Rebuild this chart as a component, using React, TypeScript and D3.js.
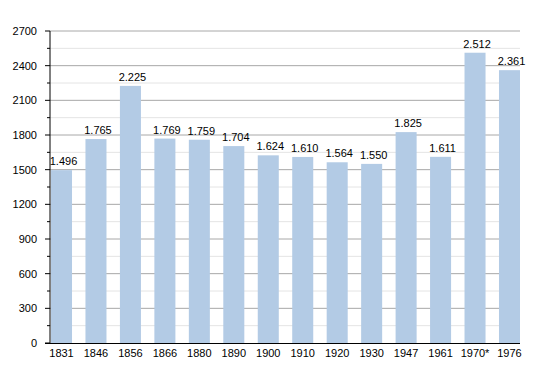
import * as d3 from 'd3';

const years = ['1831', '1846', '1856', '1866', '1880', '1890', '1900', '1910', '1920', '1930', '1947', '1961', '1970*', '1976'];
const population = [1496, 1765, 2225, 1769, 1759, 1704, 1624, 1610, 1564, 1550, 1825, 1611, 2512, 2361];
const majorTicks = [0, 300, 600, 900, 1200, 1500, 1800, 2100, 2400, 2700];
const minorTicks = [150, 450, 750, 1050, 1350, 1650, 1950, 2250, 2550];

const W = 550;
const H = 373;
const left = 50;
const right = 520;
const top = 31;
const bottom = 343;

const fmt = (v: number) => d3.format(',')(v).replace(/,/g, '.');

export default function App() {
  const x = d3.scaleBand<string>().domain(years).range([left + 1, right]).paddingInner(0.39).paddingOuter(0);
  const y = d3.scaleLinear().domain([0, 2700]).range([bottom, top]);
  const font = 'Liberation Sans, Arial, sans-serif';

  return (
    <svg width={W} height={H} style={{ position: 'absolute', left: 0, top: 0 }} fontFamily={font}>
      <rect width={W} height={H} fill="#fff" />
      {/* minor grid */}
      {minorTicks.map(t => (
        <g key={'m' + t}>
          <line x1={left} x2={right} y1={y(t)} y2={y(t)} stroke="#e4e4e4" />
          <line x1={left - 3} x2={left} y1={y(t)} y2={y(t)} stroke="#000" />
        </g>
      ))}
      {/* major grid */}
      {majorTicks.map(t => (
        <g key={'M' + t}>
          {t > 0 && <line x1={left} x2={right} y1={y(t)} y2={y(t)} stroke="#a8a8a8" />}
          <line x1={left - 5} x2={left} y1={y(t)} y2={y(t)} stroke="#000" />
          <text x={37} y={y(t)} dy="0.35em" textAnchor="end" fontSize={11} fill="#000">{t}</text>
        </g>
      ))}
      {years.map((yr, i) => (
        <g key={yr}>
          <rect x={x(yr)} y={y(population[i])} width={x.bandwidth()} height={bottom - y(population[i])} fill="#b3cbe5" />
          <text x={(x(yr) ?? 0) + x.bandwidth() / 2 + 2} y={y(population[i]) - 5} textAnchor="middle" fontSize={11} fill="#000">{fmt(population[i])}</text>
          <text x={(x(yr) ?? 0) + x.bandwidth() / 2} y={357} textAnchor="middle" fontSize={11} fill="#000">{yr}</text>
        </g>
      ))}
      <line x1={left} x2={left} y1={top} y2={bottom} stroke="#000" />
      <line x1={left - 5} x2={right} y1={bottom + 0.5} y2={bottom + 0.5} stroke="#000" />
    </svg>
  );
}
